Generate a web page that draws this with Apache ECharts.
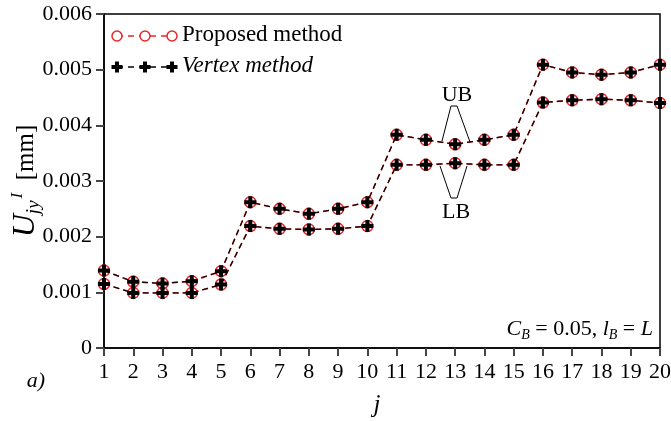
<!DOCTYPE html>
<html>
<head>
<meta charset="utf-8">
<script src="https://cdn.jsdelivr.net/npm/echarts@6/dist/echarts.min.js"></script>
<style>
  html, body { margin: 0; padding: 0; background: #fff; }
  #chart { width: 671px; height: 421px; }
</style>
</head>
<body>
<div id="chart"></div>
<script>
// Node index j along the x axis
const nodes = ['1','2','3','4','5','6','7','8','9','10','11','12','13','14','15','16','17','18','19','20'];
const yTicks = [0, 0.001, 0.002, 0.003, 0.004, 0.005, 0.006];

// Upper / lower bounds of the displacement, proposed method
const proposedUB = [0.00139, 0.00119, 0.00116, 0.00120, 0.00138, 0.00262, 0.00250, 0.00241, 0.00250, 0.00262,
                    0.00383, 0.00374, 0.00366, 0.00374, 0.00383, 0.00509, 0.00495, 0.00491, 0.00495, 0.00509];
const proposedLB = [0.00115, 0.00099, 0.00099, 0.00099, 0.00114, 0.00219, 0.00214, 0.00213, 0.00214, 0.00219,
                    0.00329, 0.00329, 0.00332, 0.00329, 0.00329, 0.00441, 0.00445, 0.00447, 0.00445, 0.00440];

// Upper / lower bounds of the displacement, vertex method
const vertexUB = [0.00139, 0.00119, 0.00116, 0.00120, 0.00138, 0.00262, 0.00250, 0.00241, 0.00250, 0.00262,
                  0.00383, 0.00374, 0.00366, 0.00374, 0.00383, 0.00509, 0.00495, 0.00491, 0.00495, 0.00509];
const vertexLB = [0.00115, 0.00099, 0.00099, 0.00099, 0.00114, 0.00219, 0.00214, 0.00213, 0.00214, 0.00219,
                  0.00329, 0.00329, 0.00332, 0.00329, 0.00329, 0.00441, 0.00445, 0.00447, 0.00445, 0.00440];

const SERIF = '"Liberation Serif", "DejaVu Serif", serif';
const RED = '#e8272b';
const PLUS = 'path://M4,0H8V4H12V8H8V12H4V8H0V4H4Z';

const chart = echarts.init(document.getElementById('chart'), null, { renderer: 'canvas' });

function proposedSeries(data) {
  return {
    name: 'Proposed method', type: 'line', data: data,
    symbol: 'circle', symbolSize: 11, showAllSymbol: true,
    lineStyle: { color: RED, width: 1.5, type: [6, 4] },
    itemStyle: { color: 'rgba(255,255,255,0)', borderColor: RED, borderWidth: 1.5 },
    emphasis: { disabled: true }, z: 2, animation: false
  };
}
function vertexSeries(data) {
  return {
    name: 'Vertex method', type: 'line', data: data,
    symbol: PLUS, symbolSize: 12, showAllSymbol: true,
    lineStyle: { color: '#1a0000', width: 1.3, type: [6, 4] },
    itemStyle: { color: '#000', borderWidth: 0 },
    emphasis: { disabled: true }, z: 3, animation: false
  };
}

// Hand-drawn legend block (three markers joined by dashes, as in the series)
function legendRow(y, kind) {
  const xs = [117, 145, 172];
  const els = [];
  els.push({ type: 'line', shape: { x1: xs[0], y1: y, x2: xs[2], y2: y },
             style: { stroke: kind === 'circle' ? RED : '#000', lineWidth: 1.5, lineDash: [6, 5] }, z: 10 });
  xs.forEach(x => {
    if (kind === 'circle') {
      els.push({ type: 'circle', shape: { cx: x, cy: y, r: 5 },
                 style: { fill: '#fff', stroke: RED, lineWidth: 1.5 }, z: 11 });
    } else {
      els.push({ type: 'rect', shape: { x: x - 5.5, y: y - 2, width: 11, height: 4 }, style: { fill: '#000' }, z: 11 });
      els.push({ type: 'rect', shape: { x: x - 2, y: y - 5.5, width: 4, height: 11 }, style: { fill: '#000' }, z: 11 });
    }
  });
  return els;
}

const option = {
  backgroundColor: '#fff',
  animation: false,
  grid: { left: 104, right: 11, top: 14, bottom: 73, show: true, borderColor: '#000', borderWidth: 1.5,
          containLabel: false, outerBoundsMode: 'none' },
  xAxis: {
    type: 'category', data: nodes, boundaryGap: false,
    name: 'j', nameLocation: 'middle', nameGap: 45, nameMoveOverlap: false,
    nameTextStyle: { fontFamily: SERIF, fontStyle: 'italic', fontSize: 25, color: '#000', padding: [0, 10, 0, 0] },
    axisLine: { lineStyle: { color: '#000', width: 1.5 } },
    axisTick: { show: true, length: 8, inside: false, lineStyle: { color: '#444', width: 2 } },
    axisLabel: { fontFamily: SERIF, fontSize: 22, color: '#000', margin: 13, interval: 0 },
    splitLine: { show: false }
  },
  yAxis: {
    type: 'value', min: yTicks[0], max: yTicks[yTicks.length - 1], interval: 0.001,
    name: '{u|U}{sub|jy}{sup|I}{t|  [mm]}', nameLocation: 'middle', nameGap: 61, nameMoveOverlap: false,
    nameTextStyle: {
      color: '#000',
      rich: {
        u: { fontFamily: SERIF, fontStyle: 'italic', fontSize: 32, color: '#000' },
        sub: { fontFamily: SERIF, fontStyle: 'italic', fontSize: 19, color: '#000', padding: [15, 0, 0, 0] },
        sup: { fontFamily: SERIF, fontStyle: 'italic', fontSize: 17, color: '#000', padding: [0, 0, 16, 2] },
        t: { fontFamily: SERIF, fontSize: 25, color: '#000' }
      }
    },
    axisLine: { show: true, lineStyle: { color: '#000', width: 1.5 } },
    axisTick: { show: true, length: 8, inside: false, lineStyle: { color: '#444', width: 2 } },
    axisLabel: { fontFamily: SERIF, fontSize: 22, color: '#000', margin: 12,
                 formatter: v => (v === 0 ? '0' : v.toFixed(3)) },
    splitLine: { show: false }
  },
  series: [
    proposedSeries(proposedUB), proposedSeries(proposedLB),
    vertexSeries(vertexUB), vertexSeries(vertexLB)
  ],
  graphic: [
    ...legendRow(36, 'circle'),
    ...legendRow(67, 'plus'),
    { type: 'text', left: 182, top: 23, z: 12,
      style: { text: 'Proposed method', font: '23px ' + SERIF, fill: '#000' } },
    { type: 'text', left: 182, top: 54, z: 12,
      style: { text: 'Vertex method', font: 'italic 23px ' + SERIF, fill: '#000' } },
    // bound labels with leader lines
    { type: 'text', x: 457, y: 95, z: 12,
      style: { text: 'UB', font: '22px ' + SERIF, fill: '#000', align: 'center', verticalAlign: 'middle' } },
    { type: 'polyline', z: 12, shape: { points: [[442, 141], [451, 106], [457, 106], [470, 142]] },
      style: { stroke: '#000', lineWidth: 1, fill: null } },
    { type: 'text', x: 456, y: 212, z: 12,
      style: { text: 'LB', font: '22px ' + SERIF, fill: '#000', align: 'center', verticalAlign: 'middle' } },
    { type: 'polyline', z: 12, shape: { points: [[440, 166], [451, 198], [457, 198], [467, 166]] },
      style: { stroke: '#000', lineWidth: 1, fill: null } },
    // parameter note
    { type: 'text', x: 653, y: 329, z: 12,
      style: {
        text: '{i|C}{s|B}{n| = 0.05, }{i|l}{s|B}{n| = }{i|L}',
        align: 'right', verticalAlign: 'middle',
        rich: {
          i: { fontFamily: SERIF, fontStyle: 'italic', fontSize: 22, fill: '#000' },
          s: { fontFamily: SERIF, fontStyle: 'italic', fontSize: 14, fill: '#000', padding: [12, 0, 0, 0] },
          n: { fontFamily: SERIF, fontSize: 22, fill: '#000' }
        }
      } },
    { type: 'text', x: 36, y: 381, z: 12,
      style: { text: 'a)', font: 'italic 22px ' + SERIF, fill: '#000', align: 'center', verticalAlign: 'middle' } }
  ]
};

chart.setOption(option);
</script>
</body>
</html>
